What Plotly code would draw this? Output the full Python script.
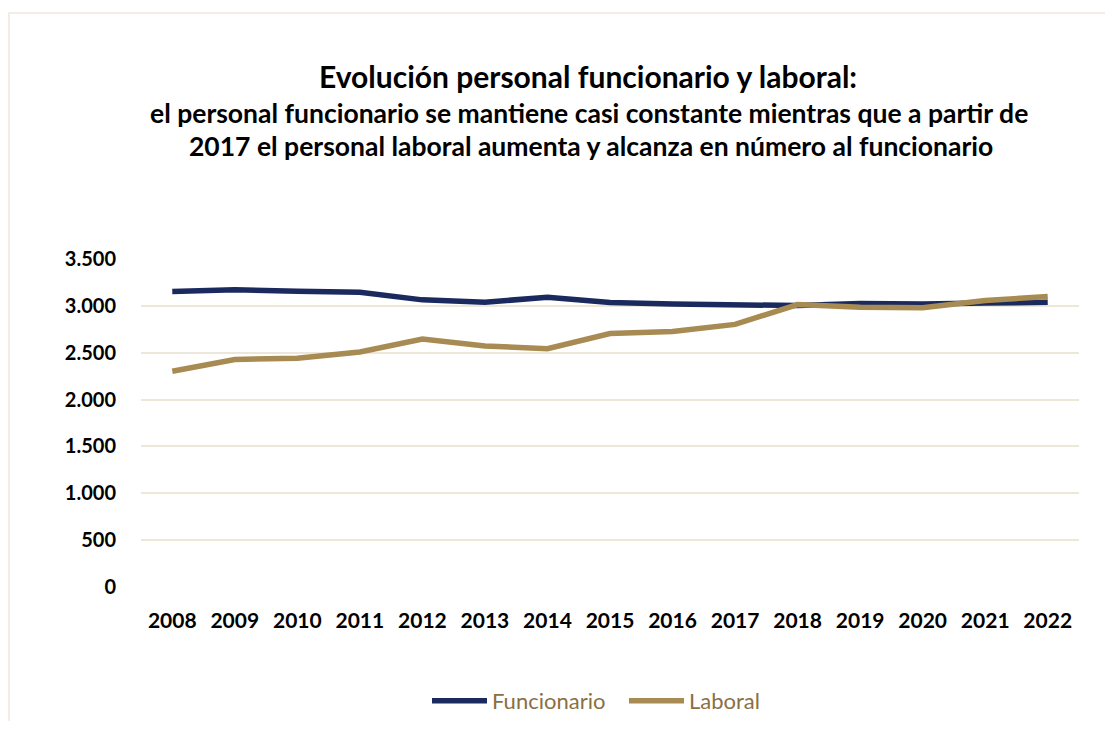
import plotly.graph_objects as go

years = ["2008", "2009", "2010", "2011", "2012", "2013", "2014", "2015",
         "2016", "2017", "2018", "2019", "2020", "2021", "2022"]
funcionario = [3153, 3171, 3156, 3146, 3064, 3039, 3092, 3035,
               3020, 3008, 3003, 3025, 3020, 3030, 3038]
laboral = [2303, 2428, 2442, 2507, 2645, 2571, 2543, 2705,
           2727, 2802, 3014, 2985, 2980, 3057, 3100]
y_ticks = [0, 500, 1000, 1500, 2000, 2500, 3000, 3500]
y_tick_labels = ["0", "500", "1.000", "1.500", "2.000", "2.500", "3.000", "3.500"]

title_lines = [
    "Evolución personal funcionario y laboral:",
    "el personal funcionario se mantiene casi constante mientras que a partir de",
    "2017 el personal laboral aumenta y alcanza en número al funcionario",
]

NAVY = "#1b2a5e"
GOLD = "#a88b52"
FONT = "Lato"

# page body margin offset (8px) compensation
OFF = 8
W, H = 1113 - 2 * OFF, 729 - 2 * OFF
L, R, T, B = 141 - OFF, 1079 - OFF, 258.5 - OFF, 587 - OFF
pw, ph = R - L, B - T

def px(x):
    return (x - OFF - L) / pw

def py(y):
    return (B - (y - OFF)) / ph

def cy(y):
    return 1 - (y - OFF) / H

fig = go.Figure()
fig.add_trace(go.Scatter(x=years, y=funcionario, mode="lines", name="Funcionario",
                         line=dict(color=NAVY, width=5.5)))
fig.add_trace(go.Scatter(x=years, y=laboral, mode="lines", name="Laboral",
                         line=dict(color=GOLD, width=5.5)))

annotations = [
    dict(text="<b>%s</b>" % title_lines[0], x=px(588), y=py(75), xref="paper", yref="paper",
         showarrow=False, xanchor="center", yanchor="middle",
         font=dict(family=FONT, size=30, color="#000000")),
    dict(text="<b>%s</b>" % title_lines[1], x=px(589), y=py(112), xref="paper", yref="paper",
         showarrow=False, xanchor="center", yanchor="middle",
         font=dict(family=FONT, size=26.5, color="#000000")),
    dict(text="<b>%s</b>" % title_lines[2], x=px(591), y=py(145), xref="paper", yref="paper",
         showarrow=False, xanchor="center", yanchor="middle",
         font=dict(family=FONT, size=26.5, color="#000000")),
]

fig.update_layout(
    template="none",
    width=W, height=H,
    margin=dict(l=L, r=W - R, t=T, b=H - B, autoexpand=False),
    paper_bgcolor="#ffffff", plot_bgcolor="#ffffff",
    showlegend=True,
    legend=dict(orientation="h", x=px(624), y=cy(701), xref="paper", yref="container",
                xanchor="center", yanchor="middle",
                font=dict(family=FONT, size=22, color="#8a6f43"), itemwidth=55,
                entrywidth=127,
                bgcolor="rgba(0,0,0,0)", traceorder="normal"),
    annotations=annotations,
    shapes=[dict(type="rect", xref="paper", yref="paper",
                 x0=px(9), x1=px(1140), y0=py(12), y1=py(770),
                 line=dict(color="#efe9dc", width=1.5), fillcolor="rgba(0,0,0,0)", layer="below")],
    hovermode=False,
)
fig.update_xaxes(type="category", range=[-0.5, len(years) - 0.5], automargin=False,
                 showgrid=False, zeroline=False, showline=False,
                 ticks="outside", ticklen=15, tickcolor="rgba(0,0,0,0)",
                 tickfont=dict(family=FONT, size=21, color="#000000"),
                 tickprefix="<b>", ticksuffix="</b>", fixedrange=True)
fig.update_yaxes(range=[0, 3500], tickvals=y_ticks, ticktext=["<b>%s</b>" % t for t in y_tick_labels],
                 automargin=False,
                 showgrid=True, gridcolor="#ede7da", gridwidth=1.5, zeroline=False, showline=False,
                 ticks="outside", ticklen=20, tickcolor="rgba(0,0,0,0)",
                 tickfont=dict(family=FONT, size=20, color="#000000"), fixedrange=True)

fig.write_html("out.html")
